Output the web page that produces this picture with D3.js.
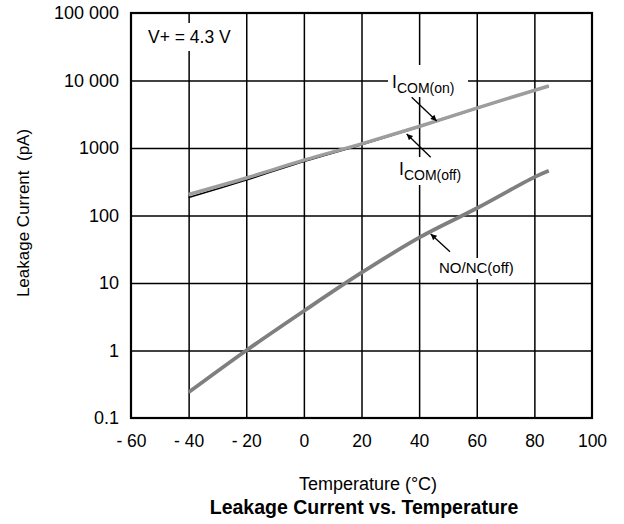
<!DOCTYPE html>
<html>
<head>
<meta charset="utf-8">
<script src="https://cdn.jsdelivr.net/npm/d3@7/dist/d3.min.js"></script>
<style>
  html, body { margin: 0; padding: 0; background: #fff; }
  svg { display: block; font-family: "Liberation Sans", Arial, Helvetica, sans-serif; }
</style>
</head>
<body>
<svg id="chart" width="624" height="524"></svg>
<script>
// ---- data ----
const temps = [-40, -20, 0, 20, 40, 60, 85];
const icomOn = [205, 360, 660, 1150, 2080, 3900, 8300];
const icomOff = [185, 335, 630, 1120, 2050, 3850, 8200];
const noncTemps = [-40, -20, 0, 20, 40, 60, 80, 85];
const noncOff = [0.24, 1.0, 3.85, 14.2, 47, 128, 370, 460];

const xTicks = [-60, -40, -20, 0, 20, 40, 60, 80, 100];
const xTickLabels = ["- 60", "- 40", "- 20", "0", "20", "40", "60", "80", "100"];
const yTicks = [0.1, 1, 10, 100, 1000, 10000, 100000];
const yTickLabels = ["0.1", "1", "10", "100", "1000", "10 000", "100 000"];

// ---- layout ----
const svg = d3.select("#chart");
const L = 131, R = 592, T = 13, B = 418;
const x = d3.scaleLinear().domain([-60, 100]).range([L, R]);
const y = d3.scaleLog().domain([0.1, 100000]).range([B, T]);

// gridlines
const gx = svg.append("g").attr("transform", `translate(0,${B})`)
  .call(d3.axisBottom(x).tickValues(xTicks.slice(1, -1)).tickSize(-(B - T)).tickFormat(""));
gx.select(".domain").remove();
gx.selectAll("line").attr("stroke", "#000").attr("stroke-width", 1.5);

const gy = svg.append("g").attr("transform", `translate(${L},0)`)
  .call(d3.axisLeft(y).tickValues(yTicks.slice(1, -1)).tickSize(-(R - L)).tickFormat(""));
gy.select(".domain").remove();
gy.selectAll("line").attr("stroke", "#000").attr("stroke-width", 1.5);

// white boxes behind annotations (interrupt gridlines)
const boxes = [
  [143, 23, 97, 28],
  [388, 65, 80, 32],
  [395, 157, 75, 28],
  [435, 258, 83, 21]
];
svg.append("g").selectAll("rect").data(boxes).join("rect")
  .attr("x", d => d[0]).attr("y", d => d[1]).attr("width", d => d[2]).attr("height", d => d[3])
  .attr("fill", "#fff");

// border
svg.append("rect").attr("x", L).attr("y", T).attr("width", R - L).attr("height", B - T)
  .attr("fill", "none").attr("stroke", "#000").attr("stroke-width", 2.2);

// axis labels
const ax = svg.append("g").attr("transform", `translate(0,${B})`)
  .call(d3.axisBottom(x).tickValues(xTicks).tickSize(0).tickPadding(17)
    .tickFormat((d, i) => xTickLabels[i]));
ax.select(".domain").remove();
ax.selectAll("text").attr("font-size", 17.5).attr("font-family", "Liberation Sans, Arial, sans-serif").attr("fill", "#000");

const ay = svg.append("g").attr("transform", `translate(${L},0)`)
  .call(d3.axisLeft(y).tickValues(yTicks).tickSize(0).tickPadding(12)
    .tickFormat((d, i) => yTickLabels[i]));
ay.select(".domain").remove();
ay.selectAll("text").attr("font-size", 18).attr("font-family", "Liberation Sans, Arial, sans-serif").attr("fill", "#000");

// lines
const line = d3.line().x(d => x(d[0])).y(d => y(d[1])).curve(d3.curveCatmullRom);
svg.append("path").datum(temps.map((t, i) => [t, icomOff[i]]))
  .attr("d", line).attr("fill", "none").attr("stroke", "#000").attr("stroke-width", 1.5);
svg.append("path").datum(temps.map((t, i) => [t, icomOn[i]]))
  .attr("d", line).attr("fill", "none").attr("stroke", "#9d9d9d").attr("stroke-width", 3.5);
svg.append("path").datum(noncTemps.map((t, i) => [t, noncOff[i]]))
  .attr("d", line).attr("fill", "none").attr("stroke", "#7f7f7f").attr("stroke-width", 3.8);

// annotations
svg.append("text").attr("x", 148).attr("y", 43).attr("font-size", 17.5).text("V+ = 4.3 V");

const tOn = svg.append("text").attr("x", 392).attr("y", 88).attr("font-size", 17.5);
tOn.append("tspan").text("I");
tOn.append("tspan").attr("font-size", 14).attr("dy", 5).text("COM(on)");

const tOff = svg.append("text").attr("x", 399).attr("y", 175).attr("font-size", 17.5);
tOff.append("tspan").text("I");
tOff.append("tspan").attr("font-size", 14).attr("dy", 5).text("COM(off)");

svg.append("text").attr("x", 439).attr("y", 273).attr("font-size", 15).text("NO/NC(off)");

// arrows
const defs = svg.append("defs");
defs.append("marker").attr("id", "arr").attr("viewBox", "0 0 10 10")
  .attr("refX", 10).attr("refY", 5).attr("markerWidth", 10).attr("markerHeight", 6)
  .attr("markerUnits", "userSpaceOnUse").attr("orient", "auto")
  .append("path").attr("d", "M0,0 L10,5 L0,10 Z").attr("fill", "#000");

const arrows = [
  [411.7, 97.3, 436.7, 121],
  [430.7, 157.3, 406.7, 134],
  [450, 251.7, 430.7, 234]
];
svg.append("g").selectAll("line").data(arrows).join("line")
  .attr("x1", d => d[0]).attr("y1", d => d[1]).attr("x2", d => d[2]).attr("y2", d => d[3])
  .attr("stroke", "#000").attr("stroke-width", 1.3).attr("marker-end", "url(#arr)");

// titles
svg.append("text").attr("x", 23).attr("y", 213)
  .attr("transform", "rotate(-90,23,213)").attr("text-anchor", "middle")
  .attr("dy", "0.35em").attr("font-size", 17).attr("xml:space", "preserve")
  .text("Leakage Current  (pA)");
svg.append("text").attr("x", 368).attr("y", 490).attr("text-anchor", "middle")
  .attr("font-size", 18).text("Temperature (°C)");
svg.append("text").attr("x", 364).attr("y", 514).attr("text-anchor", "middle")
  .attr("font-size", 19.5).attr("font-weight", "bold").text("Leakage Current vs. Temperature");
</script>
</body>
</html>
